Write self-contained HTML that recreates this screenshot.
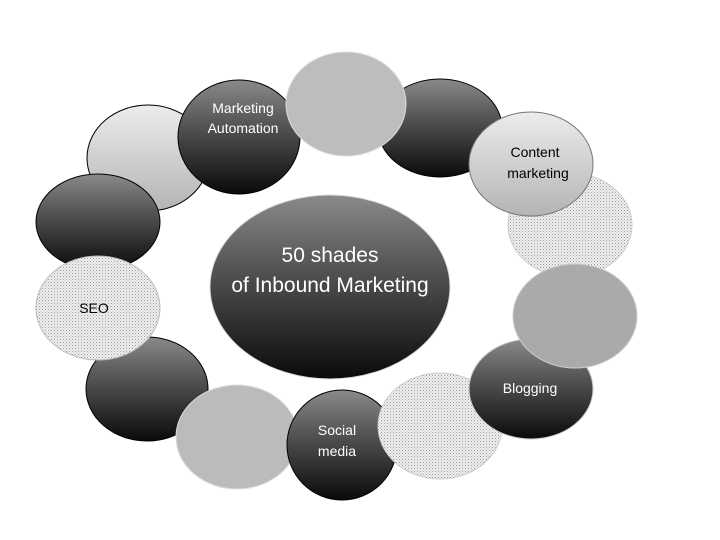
<!DOCTYPE html>
<html><head><style>html,body{margin:0;padding:0;background:#fff}svg{display:block}</style></head>
<body>
<svg width="720" height="540" viewBox="0 0 720 540" xmlns="http://www.w3.org/2000/svg" font-family="Liberation Sans, sans-serif">
<defs>
<linearGradient id="dk" x1="0" y1="0" x2="0" y2="1"><stop offset="0" stop-color="#8a8a8a"/><stop offset="0.35" stop-color="#5a5a5a"/><stop offset="1" stop-color="#0a0a0a"/></linearGradient>
<linearGradient id="lt" x1="0" y1="0" x2="0" y2="1"><stop offset="0" stop-color="#ececec"/><stop offset="1" stop-color="#b4b4b4"/></linearGradient>
<pattern id="dots" width="3" height="3" patternUnits="userSpaceOnUse"><rect width="3" height="3" fill="#f0f0f0"/><rect width="1" height="1" fill="#9a9a9a"/><rect x="1.5" y="1.5" width="1" height="1" fill="#b5b5b5"/></pattern>
</defs>
<g stroke-width="1">
<ellipse cx="148" cy="158" rx="61" ry="53" fill="url(#lt)" stroke="#000"/>
<ellipse cx="98" cy="222" rx="62" ry="48" fill="url(#dk)" stroke="#000"/>
<ellipse cx="147" cy="389" rx="61" ry="52" fill="url(#dk)" stroke="#000"/>
<ellipse cx="98" cy="308" rx="62" ry="52" fill="url(#dots)" stroke="#bbb"/>
<ellipse cx="239" cy="137" rx="61" ry="57" fill="url(#dk)" stroke="#000"/>
<ellipse cx="440" cy="128" rx="62" ry="49" fill="url(#dk)" stroke="#000"/>
<ellipse cx="346" cy="104" rx="60" ry="52" fill="#bdbdbd" stroke="#ddd"/>
<ellipse cx="570" cy="225" rx="62" ry="52" fill="url(#dots)" stroke="#ccc"/>
<ellipse cx="531" cy="164" rx="62" ry="52" fill="url(#lt)" stroke="#777"/>
<ellipse cx="237" cy="437" rx="61" ry="52" fill="#bbbbbb" stroke="#ddd"/>
<ellipse cx="342" cy="445" rx="55" ry="55" fill="url(#dk)" stroke="#000"/>
<ellipse cx="440" cy="426" rx="62" ry="53" fill="url(#dots)" stroke="#ccc"/>
<ellipse cx="531" cy="389" rx="62" ry="50" fill="url(#dk)" stroke="#ccc"/>
<ellipse cx="575" cy="316" rx="62" ry="52" fill="#aaaaaa" stroke="#ccc"/>
<ellipse cx="330" cy="287" rx="120" ry="92" fill="url(#dk)" stroke="#ddd"/>
</g>
<g fill="#fff" text-anchor="middle">
<text x="330" y="262" font-size="21">50 shades</text>
<text x="330" y="292" font-size="21">of Inbound Marketing</text>
<text x="243" y="113" font-size="14">Marketing</text>
<text x="243" y="133" font-size="14">Automation</text>
<text x="530" y="393" font-size="14">Blogging</text>
<text x="337" y="435" font-size="14">Social</text>
<text x="337" y="456" font-size="14">media</text>
</g>
<g fill="#000" text-anchor="middle" font-size="14">
<text x="535" y="157">Content</text>
<text x="538" y="178">marketing</text>
<text x="94" y="313">SEO</text>
</g>
</svg>
</body></html>
